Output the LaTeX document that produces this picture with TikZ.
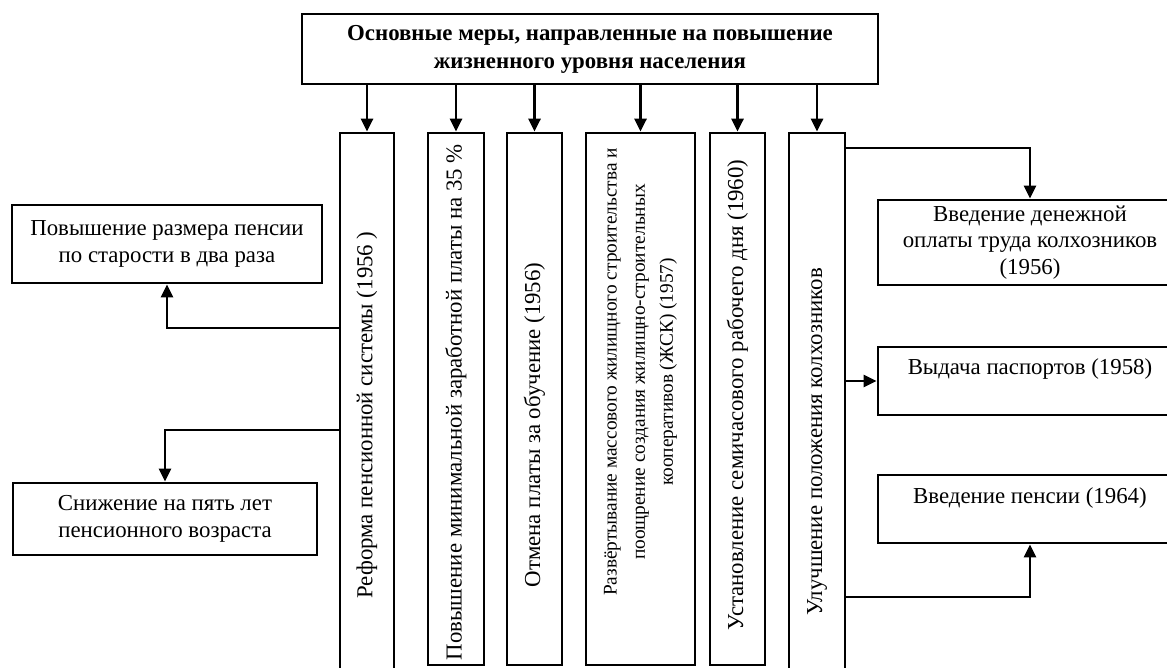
\documentclass[tikz,border=0pt]{standalone}
\usepackage{fontspec}
\setmainfont{Liberation Serif}
\usetikzlibrary{arrows.meta,positioning}
\tikzset{frame box/.style={draw, line width=1.6pt, inner sep=0pt}}
\tikzset{text box/.style={frame box, align=center, font=\fontsize{13}{15}\selectfont}}
\tikzset{head box/.style={text box, font=\bfseries\fontsize{13}{16}\selectfont}}
\tikzset{side text/.style={rotate=90, align=center, font=\fontsize{13}{15}\selectfont}}
\tikzset{link/.style={line width=1.6pt}}
\tikzset{arrow/.style={link, -{Triangle[length=2.6mm,width=2.4mm]}}}

\begin{document}
\begin{tikzpicture}[x=0.02cm, y=-0.02cm]
  \useasboundingbox (0,0) rectangle (1167,668);
  \clip (0,0) rectangle (1167,668);

  % main heading
  \node [head box, minimum width=11.52cm, minimum height=1.4cm] (top) at (590,49)
    {Основные меры, направленные на повышение\\жизненного уровня населения};

  % vertical columns
  \node [frame box, minimum width=1.08cm, minimum height=11.14cm] (pens)  at (367,411.5) {};
  \node [frame box, minimum width=1.12cm, minimum height=10.64cm] (wage)  at (456,399) {};
  \node [frame box, minimum width=1.10cm, minimum height=10.64cm] (edu)   at (534.5,399) {};
  \node [frame box, minimum width=2.18cm, minimum height=10.64cm] (house) at (640.5,399) {};
  \node [frame box, minimum width=1.10cm, minimum height=10.64cm] (week)  at (737.5,399) {};
  \node [frame box, minimum width=1.12cm, minimum height=11.14cm] (kolkh) at (817,411.5) {};

  \node [side text] (pens text)  at (367,415) {Реформа пенсионной системы (1956 )};
  \node [side text] (wage text)  at (456,402) {Повышение минимальной заработной платы на 35 \%};
  \node [side text] (edu text)   at (534.5,425) {Отмена платы за обучение (1956)};
  \node [side text, font=\fontsize{11}{16}\selectfont] (house text) at (640.5,372)
    {Развёртывание массового жилищного строительства и\\
    поощрение создания жилищно-строительных\\кооперативов (ЖСК) (1957)};
  \node [side text] (week text)  at (737.5,395) {Установление семичасового рабочего дня (1960)};
  \node [side text] (kolkh text) at (817,442) {Улучшение положения колхозников};

  % left boxes
  \node [text box, minimum width=6.2cm, minimum height=1.56cm] (double) at (167,244)
    {Повышение размера пенсии\\по старости в два раза};
  \node [text box, minimum width=6.08cm, minimum height=1.44cm] (age) at (165,519)
    {Снижение на пять лет\\пенсионного возраста};

  % right boxes
  \node [text box, minimum width=6.08cm, minimum height=1.70cm] (money) at (1030,242.5)
    {Введение денежной\\оплаты труда колхозников\\(1956)};
  \node [text box, minimum width=6.08cm, text height=0.56cm, text depth=0.80cm] (pass) at (1030,381)
    {Выдача паспортов (1958)};
  \node [text box, minimum width=6.08cm, text height=0.58cm, text depth=0.78cm] (pension) at (1030,509)
    {Введение пенсии (1964)};

  % arrows
  \foreach \col in {pens,wage,edu,house,week,kolkh}
    \draw [arrow] (top.south -| \col.north) -- (\col.north);

  \draw [arrow] (pens.west |- 0,328) -| (double.south);
  \draw [arrow] (pens.west |- 0,430) -| (age.north);

  \draw [arrow] (kolkh.east |- 0,148) -| (money.north);
  \draw [arrow] (kolkh.east |- pass.west) -- (pass.west);
  \draw [arrow] (kolkh.east |- 0,597) -| (pension.south);
\end{tikzpicture}
\end{document}
